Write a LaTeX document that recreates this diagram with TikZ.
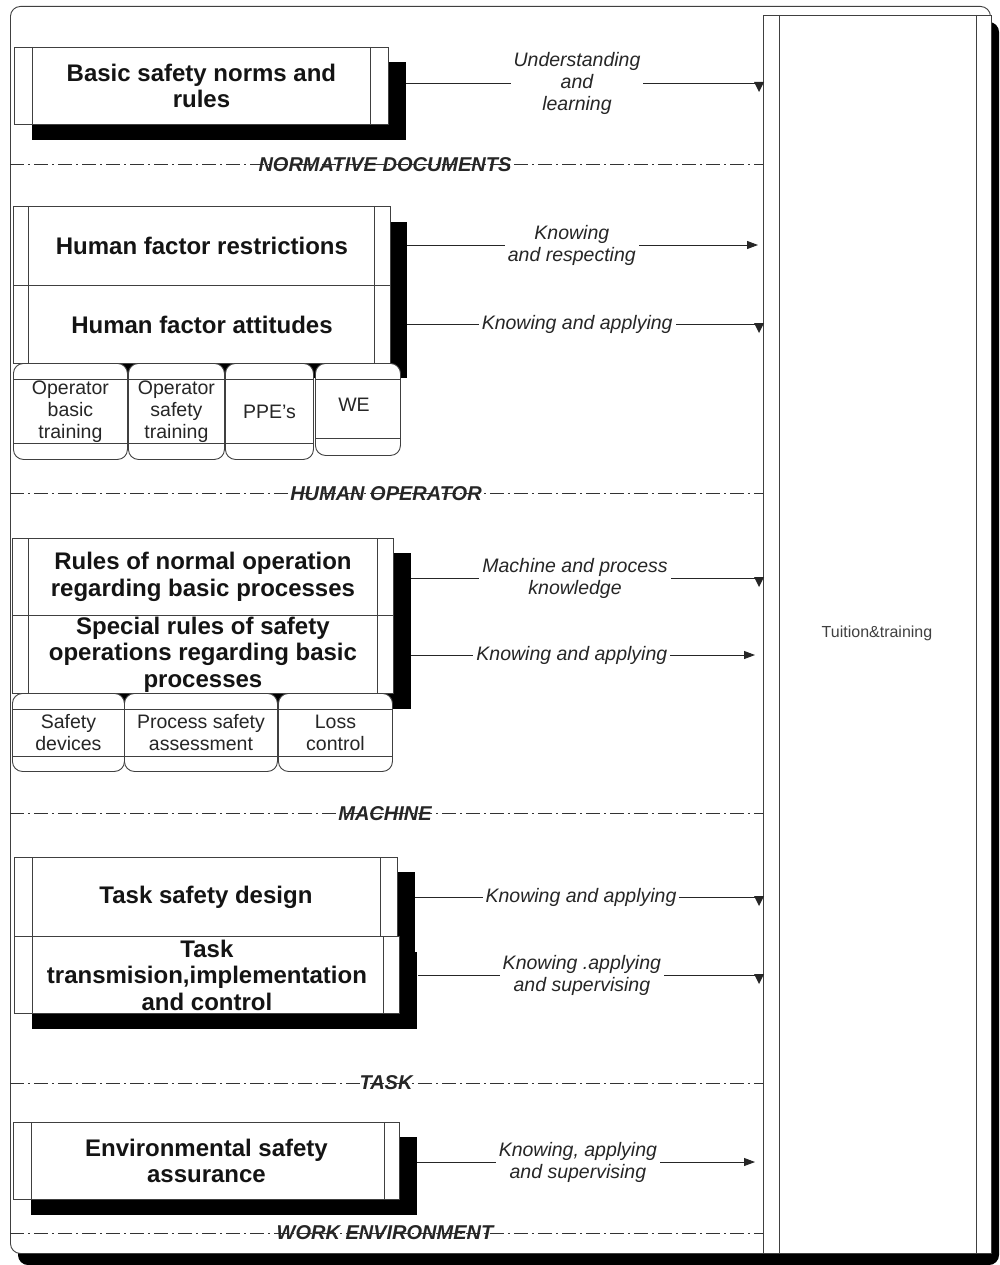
\documentclass[tikz,border=0pt]{standalone}
\usepackage{fontspec}
\setmainfont{Liberation Sans}
\usetikzlibrary{arrows.meta}
\tikzset{
  frame/.style={draw=black!75, line width=0.9pt, fill=white, inner sep=0pt, anchor=north west},
  innerl/.style={draw=black!75, line width=0.9pt},
  bigtxt/.style={font=\fontsize{24}{26.5}\selectfont\bfseries, align=center, text=black!92},
  smalltxt/.style={font=\fontsize{19.5}{22}\selectfont, align=center, text=black!85},
  rbox/.style={frame, rounded corners=10pt, smalltxt},
  lbl/.style={font=\fontsize{19.5}{22}\selectfont\itshape, align=center, fill=white, inner xsep=3pt, inner ysep=0pt, text=black!85},
  sepline/.style={draw=black!80, line width=0.8pt, dash pattern=on 14pt off 4pt on 2pt off 4pt},
  seplbl/.style={font=\fontsize{20}{22}\selectfont\bfseries\itshape, text=black!85, inner sep=0pt},
  conn/.style={draw=black!85, line width=0.9pt},
  rtip/.style={-{Triangle[length=11pt,width=8pt]}},
  shad/.style={fill=black},
  dtip/.pic={\fill[black!85] (-9,-1) -- (1,-1) -- (-4,9) -- cycle;},
}
\begin{document}
\begin{tikzpicture}[x=1pt,y=-1pt]
\useasboundingbox (0,0) rectangle (999,1265);

% outer frame with shadow
\fill[shad, rounded corners=10pt] (18,22) rectangle (999,1265);
\node[frame, rounded corners=10pt, minimum width=980, minimum height=1247] (outer) at (10,6) {};

% tall box
\node[frame, minimum width=228, minimum height=1238] (tt) at (763,15) {};
\draw[innerl] ([xshift=16pt]tt.north west) -- ([xshift=16pt]tt.south west)
              ([xshift=-15pt]tt.north east) -- ([xshift=-15pt]tt.south east);
\node[font=\fontsize{16}{18}\selectfont, text=black!75] (tl) at (877,633) {Tuition\&training};

% shadows of boxes
\fill[shad] (32,62) rectangle (406,140);
\fill[shad] (31,222) rectangle (407,378);
\fill[shad] (30,553) rectangle (411,709);
\fill[shad] (32,872) rectangle (415,952);
\fill[shad] (32,952) rectangle (417,1029);
\fill[shad] (31,1137) rectangle (417,1215);

% basic safety
\node[frame, bigtxt, minimum width=374, minimum height=77] (b1) at (14,47) {Basic safety norms and\\rules};
\draw[innerl] ([xshift=18pt]b1.north west) -- ([xshift=18pt]b1.south west)
              ([xshift=-18pt]b1.north east) -- ([xshift=-18pt]b1.south east);

% human factor
\node[frame, bigtxt, minimum width=377, minimum height=79] (hr) at (13,206) {Human factor restrictions};
\node[frame, bigtxt, minimum width=377, minimum height=78] (ha) at (13,285) {Human factor attitudes};
\foreach \n in {hr,ha}{
  \draw[innerl] ([xshift=15pt]\n.north west) -- ([xshift=15pt]\n.south west)
                ([xshift=-16pt]\n.north east) -- ([xshift=-16pt]\n.south east);
}
\node[rbox, minimum width=114, minimum height=96] (s1) at (13,363) {Operator\\basic\\training};
\node[rbox, minimum width=96, minimum height=96] (s2) at (128,363) {Operator\\safety\\training};
\node[rbox, minimum width=88, minimum height=96] (s3) at (225,363) {PPE's};
\node[rbox, minimum width=85, minimum height=92] (s4) at (315,363) {};
\node[smalltxt] (s4t) at (354,405) {WE};
\foreach \n in {s1,s2,s3}{
  \draw[innerl] ([yshift=-16pt]\n.north west) -- ([yshift=-16pt]\n.north east)
                ([yshift=16pt]\n.south west) -- ([yshift=16pt]\n.south east);
}
\draw[innerl] ([yshift=-16pt]s4.north west) -- ([yshift=-16pt]s4.north east)
              ([yshift=17pt]s4.south west) -- ([yshift=17pt]s4.south east);

% machine
\node[frame, bigtxt, minimum width=381, minimum height=77] (mr) at (12,538) {Rules of normal operation\\regarding basic processes};
\node[frame, bigtxt, minimum width=381, minimum height=78] (ms) at (12,615) {Special rules of safety\\operations regarding basic\\processes};
\foreach \n in {mr,ms}{
  \draw[innerl] ([xshift=16pt]\n.north west) -- ([xshift=16pt]\n.south west)
                ([xshift=-16pt]\n.north east) -- ([xshift=-16pt]\n.south east);
}
\node[rbox, minimum width=112, minimum height=78] (m1) at (12,693) {Safety\\devices};
\node[rbox, minimum width=153, minimum height=78] (m2) at (124,693) {Process safety\\assessment};
\node[rbox, minimum width=114, minimum height=78] (m3) at (278,693) {Loss\\control};
\foreach \n in {m1,m2,m3}{
  \draw[innerl] ([yshift=-16pt]\n.north west) -- ([yshift=-16pt]\n.north east)
                ([yshift=15pt]\n.south west) -- ([yshift=15pt]\n.south east);
}

% task
\node[frame, bigtxt, minimum width=383, minimum height=79] (td) at (14,857) {Task safety design};
\draw[innerl] ([xshift=18pt]td.north west) -- ([xshift=18pt]td.south west)
              ([xshift=-17pt]td.north east) -- ([xshift=-17pt]td.south east);
\node[frame, bigtxt, minimum width=385, minimum height=77] (ti) at (14,936) {Task\\transmision,implementation\\and control};
\draw[innerl] ([xshift=18pt]ti.north west) -- ([xshift=18pt]ti.south west)
              ([xshift=-16pt]ti.north east) -- ([xshift=-16pt]ti.south east);

% environment
\node[frame, bigtxt, minimum width=386, minimum height=77] (env) at (13,1122) {Environmental safety\\assurance};
\draw[innerl] ([xshift=18pt]env.north west) -- ([xshift=18pt]env.south west)
              ([xshift=-15pt]env.north east) -- ([xshift=-15pt]env.south east);

% separators
\coordinate (l1) at (10,164);
\coordinate (l2) at (10,493);
\coordinate (l3) at (10,813);
\coordinate (l4) at (10,1083);
\coordinate (l5) at (10,1233);
\foreach \c in {l1,l2,l3,l4,l5}{ \draw[sepline] (\c) -- (tt.west |- \c); }
\node[seplbl] (t1) at (385,165) {NORMATIVE DOCUMENTS};
\node[seplbl] (t2) at (386,494) {HUMAN OPERATOR};
\node[seplbl] (t3) at (385,814) {MACHINE};
\node[seplbl] (t4) at (386,1083) {TASK};
\node[seplbl] (t5) at (385,1233) {WORK ENVIRONMENT};

% connectors
\coordinate (a1) at (406,83);
\coordinate (a2) at (407,245);
\coordinate (a3) at (407,324);
\coordinate (a4) at (411,578);
\coordinate (a5) at (411,655);
\coordinate (a6) at (415,897);
\coordinate (a7) at (418,975);
\coordinate (a8) at (417,1162);

\draw[conn] (a1) -- node[lbl, pos=0.479] {Understanding\\and\\learning} (tt.west |- a1);
\pic at (tt.west |- a1) {dtip};
\draw[conn, rtip, shorten >=5pt] (a2) -- node[lbl, pos=0.463] {Knowing\\and respecting} (tt.west |- a2);
\draw[conn] (a3) -- node[lbl, pos=0.478] {Knowing and applying} (tt.west |- a3);
\pic at (tt.west |- a3) {dtip};
\draw[conn] (a4) -- node[lbl, pos=0.466] {Machine and process\\knowledge} (tt.west |- a4);
\pic at (tt.west |- a4) {dtip};
\draw[conn, rtip, shorten >=8pt] (a5) -- node[lbl, pos=0.457] {Knowing and applying} (tt.west |- a5);
\draw[conn] (a6) -- node[lbl, pos=0.477] {Knowing and applying} (tt.west |- a6);
\pic at (tt.west |- a6) {dtip};
\draw[conn] (a7) -- node[lbl, pos=0.475] {Knowing .applying\\and supervising} (tt.west |- a7);
\pic at (tt.west |- a7) {dtip};
\draw[conn, rtip, shorten >=8pt] (a8) -- node[lbl, pos=0.465] {Knowing, applying\\and supervising} (tt.west |- a8);
\end{tikzpicture}
\end{document}
